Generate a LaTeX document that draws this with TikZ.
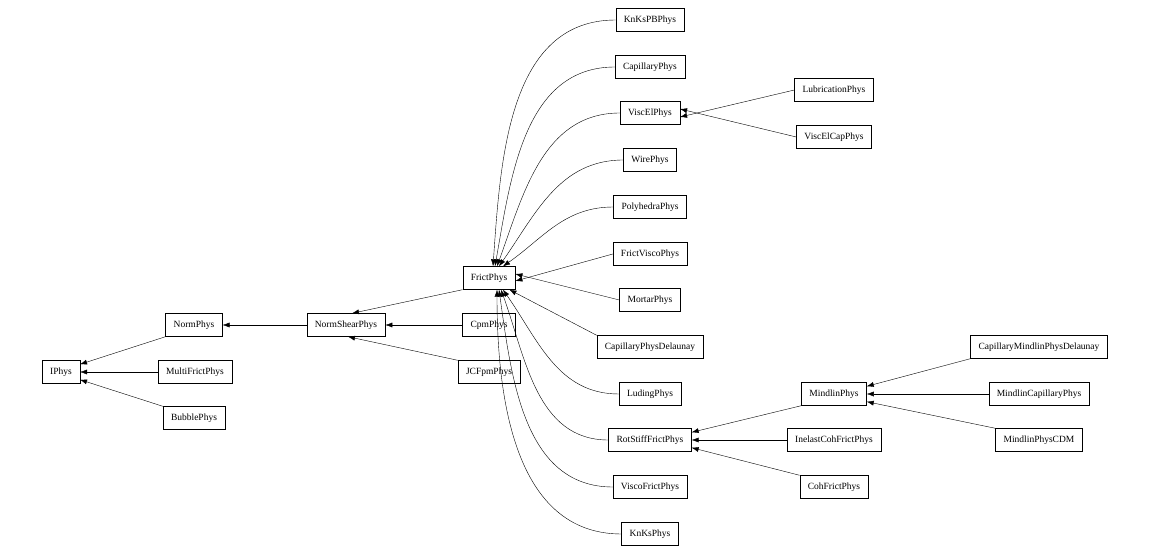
\documentclass[tikz,border=0pt]{standalone}
\usepackage{fontspec}
\setmainfont{Liberation Serif}
\usetikzlibrary{arrows.meta}
\begin{document}
\begin{tikzpicture}[x=1pt,y=-1pt,
  cls/.style={draw,thin,minimum height=23pt,inner xsep=8pt,font=\fontsize{9.5}{11}\selectfont},
  edge/.style={{Latex[length=7pt,width=5pt]}-,thin}]
\useasboundingbox (0,0) rectangle (1157,556);
% base classes
\node[cls] (IPhys) at (61,372) {IPhys};
\node[cls] (NormPhys) at (194,325) {NormPhys};
\node[cls] (MultiFrictPhys) at (195,372) {MultiFrictPhys};
\node[cls] (BubblePhys) at (194,418) {BubblePhys};
\node[cls] (NormShearPhys) at (346,325) {NormShearPhys};
\node[cls] (CpmPhys) at (489,325) {CpmPhys};
\node[cls] (JCFpmPhys) at (489,372) {JCFpmPhys};
\node[cls] (FrictPhys) at (489,278) {FrictPhys};
% FrictPhys children
\node[cls] (KnKsPBPhys) at (650,20) {KnKsPBPhys};
\node[cls] (CapillaryPhys) at (650,67) {CapillaryPhys};
\node[cls] (ViscElPhys) at (650,113) {ViscElPhys};
\node[cls] (WirePhys) at (650,160) {WirePhys};
\node[cls] (PolyhedraPhys) at (650,207) {PolyhedraPhys};
\node[cls] (FrictViscoPhys) at (650,254) {FrictViscoPhys};
\node[cls] (MortarPhys) at (650,300) {MortarPhys};
\node[cls] (CapillaryPhysDelaunay) at (650,347) {CapillaryPhysDelaunay};
\node[cls] (LudingPhys) at (650,394) {LudingPhys};
\node[cls] (RotStiffFrictPhys) at (650,440) {RotStiffFrictPhys};
\node[cls] (ViscoFrictPhys) at (650,487) {ViscoFrictPhys};
\node[cls] (KnKsPhys) at (650,534) {KnKsPhys};
% third level
\node[cls] (LubricationPhys) at (834,90) {LubricationPhys};
\node[cls] (ViscElCapPhys) at (834,137) {ViscElCapPhys};
\node[cls] (MindlinPhys) at (834,394) {MindlinPhys};
\node[cls] (InelastCohFrictPhys) at (834,440) {InelastCohFrictPhys};
\node[cls] (CohFrictPhys) at (834,487) {CohFrictPhys};
\node[cls] (CapillaryMindlinPhysDelaunay) at (1039,347) {CapillaryMindlinPhysDelaunay};
\node[cls] (MindlinCapillaryPhys) at (1039,394) {MindlinCapillaryPhys};
\node[cls] (MindlinPhysCDM) at (1039,440) {MindlinPhysCDM};

\draw[edge] ([yshift=-4pt]IPhys.north east) -- (NormPhys.south west);
\draw[edge] (IPhys.east) -- (MultiFrictPhys.west);
\draw[edge] ([yshift=4pt]IPhys.south east) -- (BubblePhys.north west);
\draw[edge] (NormPhys.east) -- (NormShearPhys.west);
\draw[edge] (NormShearPhys.east) -- (CpmPhys.west);
\draw[edge] ([xshift=2pt]NormShearPhys.south) -- (JCFpmPhys.north west);
\draw[edge] ([xshift=6pt]NormShearPhys.north) -- (FrictPhys.south west);

\draw[edge] ([xshift=4pt]FrictPhys.north) to[out=86,in=180] (KnKsPBPhys.west);
\draw[edge] ([xshift=6pt]FrictPhys.north) to[out=80,in=180] (CapillaryPhys.west);
\draw[edge] ([xshift=8pt]FrictPhys.north) to[out=70,in=180] (ViscElPhys.west);
\draw[edge] ([xshift=10pt]FrictPhys.north) to[out=55,in=180] (WirePhys.west);
\draw[edge] ([xshift=14pt]FrictPhys.north) to[out=35,in=180] (PolyhedraPhys.west);
\draw[edge] ([yshift=-3pt]FrictPhys.east) -- (FrictViscoPhys.west);
\draw[edge] ([yshift=4pt]FrictPhys.east) -- (MortarPhys.west);
\draw[edge] ([xshift=-6pt]FrictPhys.south east) -- (CapillaryPhysDelaunay.north west);
\draw[edge] ([xshift=14pt]FrictPhys.south) to[out=-55,in=180] (LudingPhys.west);
\draw[edge] ([xshift=12pt]FrictPhys.south) to[out=-70,in=180] (RotStiffFrictPhys.west);
\draw[edge] ([xshift=10pt]FrictPhys.south) to[out=-82,in=180] (ViscoFrictPhys.west);
\draw[edge] ([xshift=8pt]FrictPhys.south) to[out=-90,in=180] (KnKsPhys.west);

\draw[edge] ([yshift=-4pt]ViscElPhys.east) -- (LubricationPhys.west);
\draw[edge] ([yshift=4pt]ViscElPhys.east) -- (ViscElCapPhys.west);
\draw[edge] ([yshift=-4pt]RotStiffFrictPhys.north east) -- (MindlinPhys.south west);
\draw[edge] (RotStiffFrictPhys.east) -- (InelastCohFrictPhys.west);
\draw[edge] ([yshift=4pt]RotStiffFrictPhys.south east) -- (CohFrictPhys.north west);
\draw[edge] ([yshift=-4pt]MindlinPhys.north east) -- (CapillaryMindlinPhysDelaunay.south west);
\draw[edge] (MindlinPhys.east) -- (MindlinCapillaryPhys.west);
\draw[edge] ([yshift=4pt]MindlinPhys.south east) -- (MindlinPhysCDM.north west);
\end{tikzpicture}
\end{document}
